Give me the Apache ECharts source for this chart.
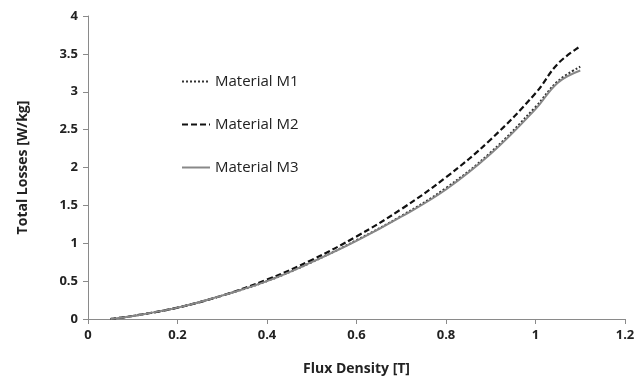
<!DOCTYPE html>
<html><head><meta charset="utf-8">
<script src="https://cdn.jsdelivr.net/npm/echarts@6/dist/echarts.min.js"></script>
<style>html,body{margin:0;padding:0;background:#fff}#c{width:638px;height:385px}</style>
</head><body><div id="c"></div>
<script>
const fluxDensity = [0.05, 0.1, 0.2, 0.3, 0.4, 0.5, 0.6, 0.7, 0.8, 0.9, 1.0, 1.05, 1.1];
const lossM1 = [0.0, 0.04, 0.15, 0.31, 0.5, 0.75, 1.04, 1.36, 1.73, 2.2, 2.8, 3.14, 3.33];
const lossM2 = [0.0, 0.04, 0.15, 0.31, 0.52, 0.78, 1.09, 1.45, 1.87, 2.37, 2.98, 3.37, 3.6];
const lossM3 = [0.0, 0.04, 0.15, 0.31, 0.5, 0.75, 1.03, 1.35, 1.71, 2.18, 2.77, 3.12, 3.28];
const seriesNames = ['Material M1', 'Material M2', 'Material M3'];

const pairs = ys => fluxDensity.map((x, i) => [x, ys[i]]);
const font = '"Open Sans", "DejaVu Sans", sans-serif';
const chart = echarts.init(document.getElementById('c'));
chart.setOption({
  animation: false,
  grid: {left: 88, right: 13, top: 16, bottom: 66},
  legend: {
    orient: 'vertical', left: 176, top: 69, itemGap: 28, itemWidth: 28, itemHeight: 14,
    itemStyle: {opacity: 0},
    textStyle: {fontFamily: font, fontSize: 15, color: '#222'},
    data: seriesNames
  },
  xAxis: {
    type: 'value', min: 0, max: 1.2, interval: 0.2,
    name: 'Flux Density [T]', nameLocation: 'middle', nameGap: 43,
    nameTextStyle: {fontFamily: font, fontSize: 14, fontWeight: 'bold', color: '#222'},
    axisLine: {lineStyle: {color: '#8a8a8a', width: 1}},
    axisTick: {show: true, inside: false, length: 5, lineStyle: {color: '#8a8a8a'}},
    axisLabel: {fontFamily: font, fontSize: 13, fontWeight: 'bold', color: '#222', margin: 10},
    splitLine: {show: false}
  },
  yAxis: {
    type: 'value', min: 0, max: 4, interval: 0.5,
    name: 'Total Losses [W/kg]', nameLocation: 'middle', nameGap: 58,
    nameTextStyle: {fontFamily: font, fontSize: 14, fontWeight: 'bold', color: '#222'},
    axisLine: {show: true, lineStyle: {color: '#8a8a8a', width: 1}},
    axisTick: {show: true, inside: false, length: 5, lineStyle: {color: '#8a8a8a'}},
    axisLabel: {fontFamily: font, fontSize: 13, fontWeight: 'bold', color: '#222', margin: 10},
    splitLine: {show: false}
  },
  series: [
    {name: seriesNames[0], type: 'line', smooth: 0.4, symbol: 'none', data: pairs(lossM1),
     lineStyle: {color: '#333', width: 2, type: [2, 2]}, itemStyle: {color: '#333'}},
    {name: seriesNames[1], type: 'line', smooth: 0.4, symbol: 'none', data: pairs(lossM2),
     lineStyle: {color: '#111', width: 2.2, type: [6, 3]}, itemStyle: {color: '#111'}},
    {name: seriesNames[2], type: 'line', smooth: 0.4, symbol: 'none', data: pairs(lossM3),
     lineStyle: {color: '#888', width: 2, type: 'solid'}, itemStyle: {color: '#888'}}
  ]
});
</script></body></html>
